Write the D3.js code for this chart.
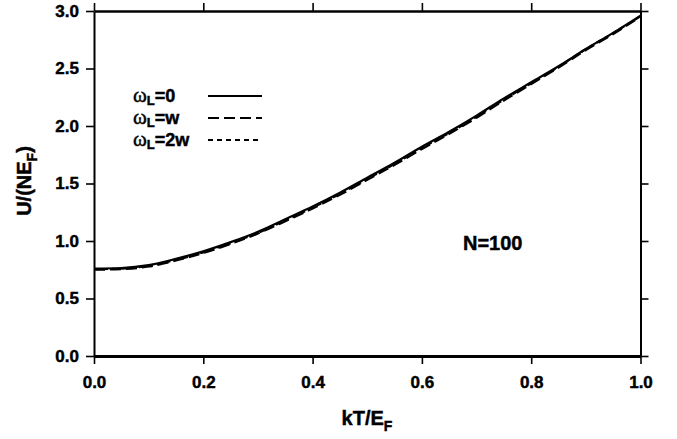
<!DOCTYPE html>
<html>
<head>
<meta charset="utf-8">
<script src="https://cdn.jsdelivr.net/npm/d3@7/dist/d3.min.js"></script>
<style>
  html, body { margin: 0; padding: 0; background: #fff; }
  svg text { font-family: "Liberation Sans", Arial, Helvetica, sans-serif; font-weight: bold; fill: #000; stroke: #000; stroke-width: 0.45px; }
</style>
</head>
<body>
<svg id="chart" width="677" height="439"></svg>
<script>
// Reduced temperature kT/E_F
const kT = [0.0, 0.05, 0.1, 0.15, 0.2, 0.25, 0.3, 0.35, 0.4, 0.45, 0.5,
            0.55, 0.6, 0.65, 0.7, 0.75, 0.8, 0.85, 0.9, 0.95, 1.0];
// Internal energy U/(N E_F) for three trap frequencies
const u0  = [0.760, 0.765, 0.790, 0.845, 0.910, 0.990, 1.080, 1.190, 1.300, 1.420, 1.550,
             1.680, 1.820, 1.950, 2.090, 2.240, 2.380, 2.520, 2.670, 2.810, 2.960];
const uW  = [0.750, 0.755, 0.778, 0.830, 0.895, 0.975, 1.065, 1.172, 1.283, 1.402, 1.532,
             1.662, 1.800, 1.932, 2.072, 2.222, 2.365, 2.508, 2.660, 2.800, 2.950];
const u2W = [0.755, 0.760, 0.783, 0.836, 0.901, 0.981, 1.071, 1.179, 1.290, 1.410, 1.540,
             1.670, 1.808, 1.940, 2.080, 2.230, 2.372, 2.515, 2.668, 2.808, 2.955];
const xTicks = [0.0, 0.2, 0.4, 0.6, 0.8, 1.0];
const yTicks = [0.0, 0.5, 1.0, 1.5, 2.0, 2.5, 3.0];
const legendLabels = ["0", "w", "2w"];
const dashes = [null, "11,5", "5,4"];

const svg = d3.select("#chart");
const x = d3.scaleLinear().domain([0, 1]).range([94, 640.5]);
const y = d3.scaleLinear().domain([0, 3]).range([356, 11]);

// frame axes
const fmt = d3.format(".1f");
const axBottom = svg.append("g").attr("transform", "translate(0,356)")
  .call(d3.axisBottom(x).tickValues(xTicks).tickFormat(fmt).tickSize(8).tickPadding(12).tickSizeOuter(0));
const axLeft = svg.append("g").attr("transform", "translate(94,0)")
  .call(d3.axisLeft(y).tickValues(yTicks).tickFormat(fmt).tickSize(8).tickPadding(7).tickSizeOuter(0));
const axTop = svg.append("g").attr("transform", "translate(0,11)")
  .call(d3.axisTop(x).tickValues(xTicks).tickFormat("").tickSize(8).tickSizeOuter(0));
const axRight = svg.append("g").attr("transform", "translate(640.5,0)")
  .call(d3.axisRight(y).tickValues(yTicks).tickFormat("").tickSize(8).tickSizeOuter(0));

[axBottom, axLeft, axTop, axRight].forEach(g => {
  g.selectAll(".tick line").attr("stroke", "#000").attr("stroke-width", 1.6);
  g.select(".domain").attr("stroke", "#000");
  g.selectAll("text").attr("font-size", 17).attr("fill", "#000")
    .style("font-family", "'Liberation Sans', Arial, sans-serif").style("font-weight", "bold");
});
axBottom.select(".domain").attr("stroke-width", 3);
axTop.select(".domain").attr("stroke-width", 2.4);
axLeft.select(".domain").attr("stroke-width", 2);
axRight.select(".domain").attr("stroke-width", 2);

// curves
const series = [u0, uW, u2W];
const line = d3.line().x(d => x(d[0])).y(d => y(d[1])).curve(d3.curveMonotoneX);
series.forEach((s, i) => {
  svg.append("path")
    .datum(kT.map((k, j) => [k, s[j]]))
    .attr("d", line)
    .attr("fill", "none")
    .attr("stroke", "#000")
    .attr("stroke-width", 2.2)
    .attr("stroke-dasharray", dashes[i]);
});

// legend
const legY = [96, 118, 140];
legendLabels.forEach((lab, i) => {
  const t = svg.append("text").attr("x", 133).attr("y", legY[i] + 6).attr("font-size", 18);
  t.append("tspan").text("\u03c9").style("font-family", "'Liberation Serif', 'DejaVu Serif', serif").style("font-weight", "normal").attr("font-size", 21);
  t.append("tspan").text("L").attr("font-size", 13).attr("dy", 3);
  t.append("tspan").text("=" + lab).attr("dy", -3);
  svg.append("line")
    .attr("x1", 208).attr("x2", 262).attr("y1", legY[i]).attr("y2", legY[i])
    .attr("stroke", "#000").attr("stroke-width", 2.2)
    .attr("stroke-dasharray", dashes[i]);
});

// annotation
svg.append("text").attr("x", 463).attr("y", 250).attr("font-size", 20).text("N=100");

// axis titles
const xt = svg.append("text").attr("x", 367).attr("y", 425).attr("text-anchor", "middle").attr("font-size", 20);
xt.append("tspan").text("kT/E");
xt.append("tspan").text("F").attr("font-size", 14).attr("dy", 6);

const yt = svg.append("text").attr("transform", "translate(31,181) rotate(-90)").attr("text-anchor", "middle").attr("font-size", 20);
yt.append("tspan").text("U/(NE");
yt.append("tspan").text("F").attr("font-size", 14).attr("dy", 6);
yt.append("tspan").text(")").attr("dy", -6);
</script>
</body>
</html>
